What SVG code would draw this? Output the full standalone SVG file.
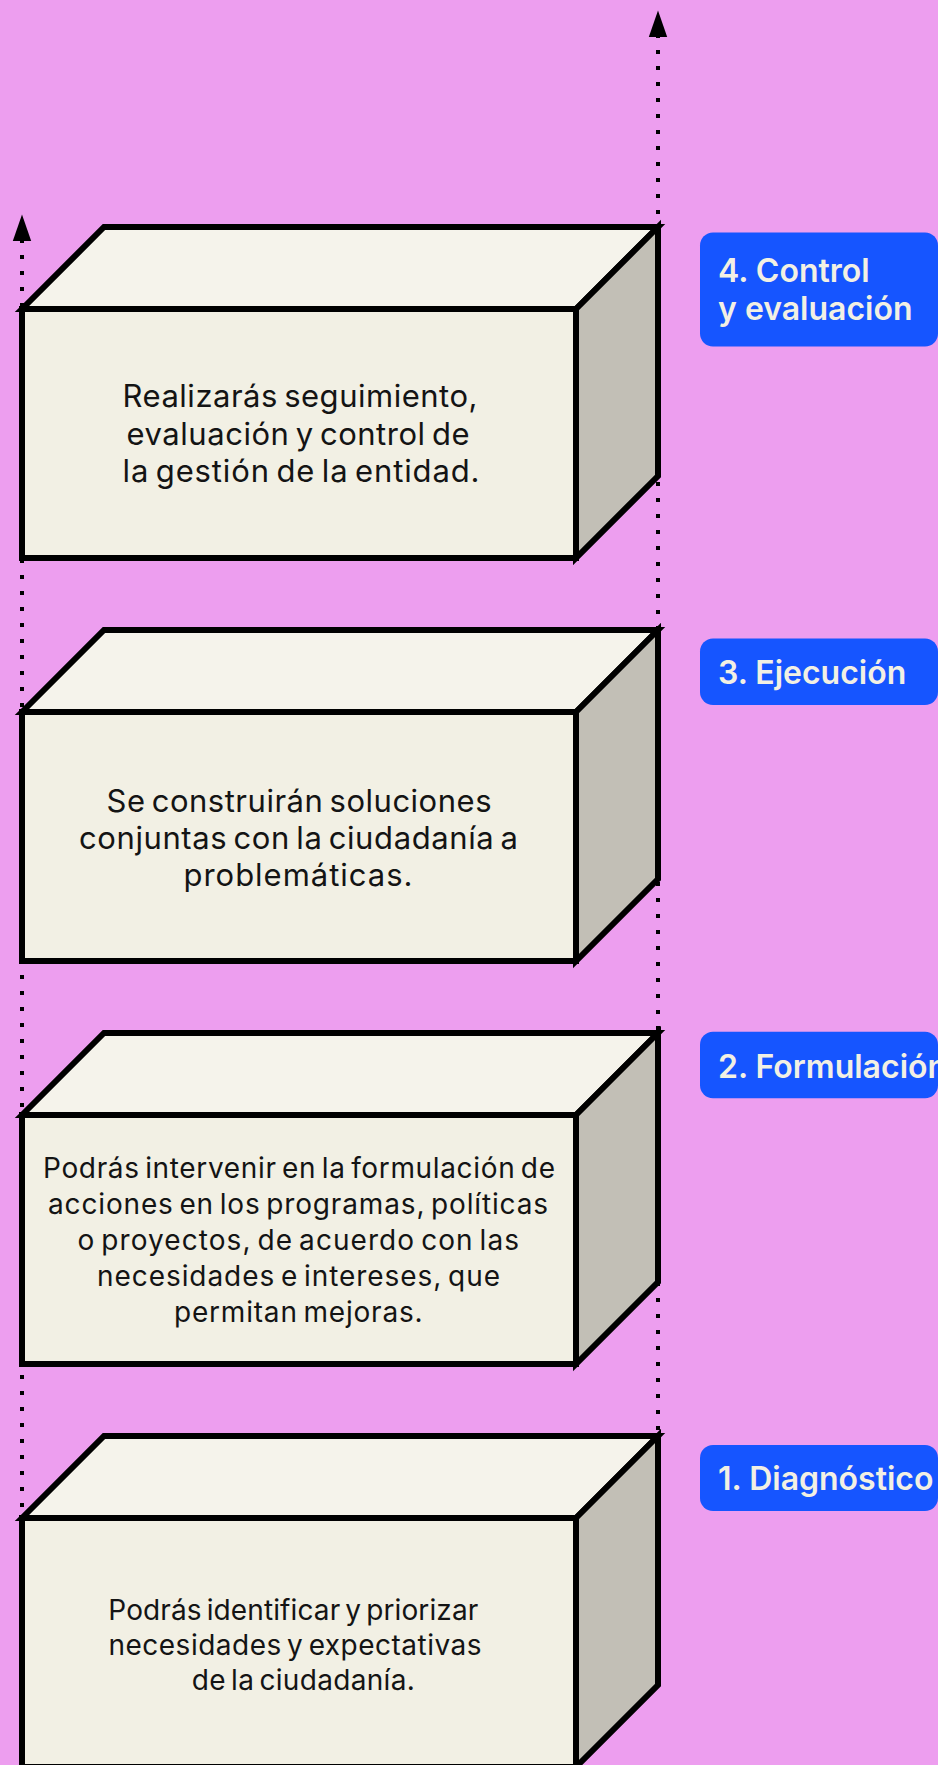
<svg xmlns="http://www.w3.org/2000/svg" width="938" height="1765" viewBox="0 0 938 1765">
  <style>
    .bg { fill: #ED9EEF; }
    .front { fill: #F2F0E4; stroke: #000; stroke-width: 6; stroke-linejoin: miter; }
    .top { fill: #F5F3EB; stroke: #000; stroke-width: 6; stroke-linejoin: miter; }
    .side { fill: #C2BFB6; stroke: #000; stroke-width: 6; stroke-linejoin: miter; }
    .dots { fill: none; stroke: #000; stroke-width: 4; stroke-dasharray: 4 12; }
    .body { font-family: Inter, "Liberation Sans", sans-serif; fill: #141414; text-anchor: middle; word-spacing: -3px; }
    .b30 { font-size: 31px; }
    .b27 { font-size: 28px; }
    .tag { fill: #1655FF; }
    .tagtext { font-family: Inter, "Liberation Sans", sans-serif; font-size: 32px; font-weight: 600; fill: #F2F0E4; }
  </style>
  <defs>
    <marker id="arrow" markerUnits="userSpaceOnUse" markerWidth="30" markerHeight="22" refX="0" refY="10" orient="auto-start-reverse" overflow="visible">
      <path d="M0,0.8 L26.5,10 L0,19.2 Z" fill="#000"/>
    </marker>
  </defs>
  <rect class="bg" x="0" y="0" width="938" height="1765"/>

  <g id="connectors">
    <path class="dots" d="M658,37 L658,1436" stroke-dashoffset="3" marker-start="url(#arrow)"/>
    <path class="dots" d="M22,241 L22,1518" stroke-dashoffset="2" marker-start="url(#arrow)"/>
  </g>

  <g id="box-control">
    <polygon class="top" points="22,309 104,227 658,227 576,309"/>
    <polygon class="side" points="576,309 658,227 658,476 576,558"/>
    <rect class="front" x="22" y="309" width="554" height="249"/>
    <text class="body b30" x="300" y="407" textLength="355">Realizarás seguimiento,</text>
    <text class="body b30" x="298" y="444.5" textLength="343">evaluación y control de</text>
    <text class="body b30" x="301" y="482" textLength="357">la gestión de la entidad.</text>
  </g>
  <g id="tag-control">
    <rect class="tag" x="700" y="232.5" width="238" height="114" rx="13"/>
    <text class="tagtext" x="718" y="281.5">4. Control</text>
    <text class="tagtext" x="718" y="320">y evaluación</text>
  </g>

  <g id="box-ejecucion">
    <polygon class="top" points="22,712 104,630 658,630 576,712"/>
    <polygon class="side" points="576,712 658,630 658,879 576,961"/>
    <rect class="front" x="22" y="712" width="554" height="249"/>
    <text class="body b30" x="299" y="811.5" textLength="385">Se construirán soluciones</text>
    <text class="body b30" x="298.5" y="849" textLength="439">conjuntas con la ciudadanía a</text>
    <text class="body b30" x="298" y="886" textLength="229">problemáticas.</text>
  </g>
  <g id="tag-ejecucion">
    <rect class="tag" x="700" y="638.5" width="238" height="66.5" rx="13"/>
    <text class="tagtext" x="718" y="684.3">3. Ejecución</text>
  </g>

  <g id="box-formulacion">
    <polygon class="top" points="22,1115 104,1033 658,1033 576,1115"/>
    <polygon class="side" points="576,1115 658,1033 658,1282 576,1364"/>
    <rect class="front" x="22" y="1115" width="554" height="249"/>
    <text class="body b27" x="299" y="1178" textLength="512">Podrás intervenir en la formulación de</text>
    <text class="body b27" x="298" y="1214" textLength="500">acciones en los programas, políticas</text>
    <text class="body b27" x="298.3" y="1250" textLength="441.5">o proyectos, de acuerdo con las</text>
    <text class="body b27" x="298.5" y="1285.8" textLength="403">necesidades e intereses, que</text>
    <text class="body b27" x="298.3" y="1321.7" textLength="248.6">permitan mejoras.</text>
  </g>
  <g id="tag-formulacion">
    <rect class="tag" x="700" y="1031.7" width="238" height="66.6" rx="13"/>
    <text class="tagtext" x="718" y="1077.7">2. Formulación</text>
  </g>

  <g id="box-diagnostico">
    <polygon class="top" points="22,1518 104,1436 658,1436 576,1518"/>
    <polygon class="side" points="576,1518 658,1436 658,1685 576,1767"/>
    <rect class="front" x="22" y="1518" width="554" height="249"/>
    <text class="body b27" x="293.3" y="1620" textLength="370">Podrás identificar y priorizar</text>
    <text class="body b27" x="295" y="1655" textLength="373">necesidades y expectativas</text>
    <text class="body b27" x="303.3" y="1690" textLength="223">de la ciudadanía.</text>
  </g>
  <g id="tag-diagnostico">
    <rect class="tag" x="700" y="1445" width="238" height="66" rx="13"/>
    <text class="tagtext" x="718" y="1490">1. Diagnóstico</text>
  </g>
</svg>
